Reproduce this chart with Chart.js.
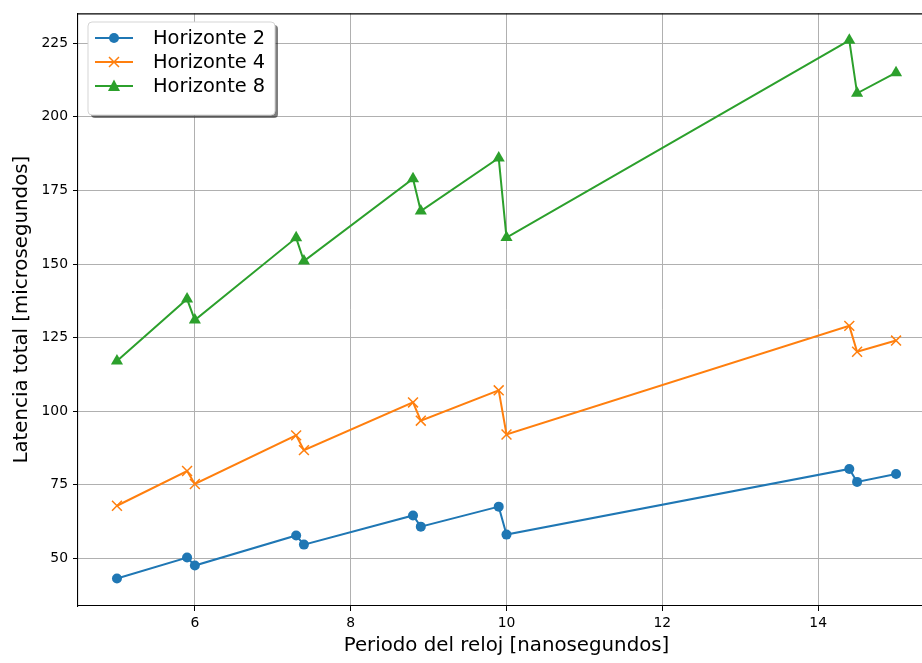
<!DOCTYPE html>
<html>
<head>
<meta charset="utf-8">
<script src="https://cdn.jsdelivr.net/npm/chart.js@4/dist/chart.umd.min.js"></script>
<style>
  html, body { margin: 0; padding: 0; background: #fff; overflow: hidden; }
  #wrap { width: 940px; height: 663px; position: relative; }
</style>
</head>
<body>
<div id="wrap"><canvas id="c" width="940" height="663"></canvas></div>
<script>
// Clock period (ns) sampled for every horizon
const periodos = [5, 5.9, 6, 7.3, 7.4, 8.8, 8.9, 9.9, 10, 14.4, 14.5, 15];

// Total latency (microseconds) per prediction horizon
const horizonte2 = [43.2, 50.3, 47.6, 57.8, 54.7, 64.6, 60.8, 67.6, 58.1, 80.4, 76.0, 78.7];
const horizonte4 = [67.9, 79.7, 75.3, 91.8, 86.8, 103.0, 96.8, 107.1, 92.1, 129.0, 120.2, 124.0];
const horizonte8 = [117.1, 138.1, 131.0, 158.9, 151.0, 179.0, 168.0, 186.0, 159.0, 226.0, 208.0, 215.0];

const seriesNames = ['Horizonte 2', 'Horizonte 4', 'Horizonte 8'];

// Axis ticks
const xTicks = [6, 8, 10, 12, 14];
const yTicks = [50, 75, 100, 125, 150, 175, 200, 225];

const FONT = "'DejaVu Sans', sans-serif";

function toPoints(ys) {
  return periodos.map((x, i) => ({ x: x, y: ys[i] }));
}

// Top frame line of the axes box
const frameTop = {
  id: 'frameTop',
  afterDraw(chart) {
    const { ctx, chartArea } = chart;
    ctx.save();
    ctx.strokeStyle = '#000';
    ctx.lineWidth = 1.1;
    ctx.beginPath();
    ctx.moveTo(chartArea.left, chartArea.top + 0.5);
    ctx.lineTo(chartArea.right, chartArea.top + 0.5);
    ctx.stroke();
    ctx.restore();
  }
};

function drawMarker(ctx, style, x, y, color) {
  ctx.save();
  ctx.fillStyle = color;
  ctx.strokeStyle = color;
  if (style === 'circle') {
    ctx.beginPath();
    ctx.arc(x, y, 5, 0, Math.PI * 2);
    ctx.fill();
  } else if (style === 'triangle') {
    ctx.beginPath();
    ctx.moveTo(x, y - 6.5);
    ctx.lineTo(x + 6, y + 5);
    ctx.lineTo(x - 6, y + 5);
    ctx.closePath();
    ctx.fill();
  } else if (style === 'crossRot') {
    ctx.lineWidth = 1.5;
    ctx.beginPath();
    ctx.moveTo(x - 5, y - 5); ctx.lineTo(x + 5, y + 5);
    ctx.moveTo(x + 5, y - 5); ctx.lineTo(x - 5, y + 5);
    ctx.stroke();
  }
  ctx.restore();
}

// Framed legend with drop shadow, line + marker samples
const boxLegend = {
  id: 'boxLegend',
  afterDraw(chart) {
    const ctx = chart.ctx;
    const x = 88, y = 22, w = 187, h = 93, r = 4;
    ctx.save();
    function rr(px, py) {
      ctx.beginPath();
      ctx.moveTo(px + r, py);
      ctx.lineTo(px + w - r, py);
      ctx.quadraticCurveTo(px + w, py, px + w, py + r);
      ctx.lineTo(px + w, py + h - r);
      ctx.quadraticCurveTo(px + w, py + h, px + w - r, py + h);
      ctx.lineTo(px + r, py + h);
      ctx.quadraticCurveTo(px, py + h, px, py + h - r);
      ctx.lineTo(px, py + r);
      ctx.quadraticCurveTo(px, py, px + r, py);
      ctx.closePath();
    }
    // shadow
    rr(x + 3, y + 3);
    ctx.fillStyle = 'rgba(0,0,0,0.5)';
    ctx.fill();
    rr(x, y);
    ctx.fillStyle = '#fff';
    ctx.fill();
    ctx.strokeStyle = '#d5d5d5';
    ctx.lineWidth = 1;
    ctx.stroke();

    ctx.font = '19.4px ' + FONT;
    ctx.textBaseline = 'middle';
    ctx.textAlign = 'left';
    chart.data.datasets.forEach((ds, i) => {
      const cy = 38 + i * 24;
      ctx.strokeStyle = ds.borderColor;
      ctx.lineWidth = 2;
      ctx.beginPath();
      ctx.moveTo(95, cy);
      ctx.lineTo(133, cy);
      ctx.stroke();
      drawMarker(ctx, ds.pointStyle, 114, cy, ds.borderColor);
      ctx.fillStyle = '#000';
      ctx.fillText(ds.label, 153, cy + 1);
    });
    ctx.restore();
  }
};

const colors = ['#1f77b4', '#ff7f0e', '#2ca02c'];
const styles = ['circle', 'crossRot', 'triangle'];
const radii = [5, 7, 7];
const series = [horizonte2, horizonte4, horizonte8];

const datasets = series.map((ys, i) => ({
  label: seriesNames[i],
  data: toPoints(ys),
  showLine: true,
  borderColor: colors[i],
  backgroundColor: colors[i],
  borderWidth: 2,
  pointStyle: styles[i],
  pointRadius: radii[i],
  pointHoverRadius: radii[i],
  pointBorderWidth: i === 1 ? 1.5 : 0,
  pointBorderColor: colors[i],
  pointBackgroundColor: colors[i],
  tension: 0
}));

new Chart(document.getElementById('c'), {
  type: 'scatter',
  data: { datasets: datasets },
  options: {
    responsive: false,
    animation: false,
    layout: { autoPadding: false, padding: { left: 0, top: 11, right: 5, bottom: 0 } },
    plugins: {
      legend: { display: false },
      tooltip: { enabled: false }
    },
    scales: {
      x: {
        type: 'linear',
        min: 4.5,
        max: 15.5,
        afterFit(scale) { scale.height = 57; },
        afterBuildTicks(scale) { scale.ticks = xTicks.map(v => ({ value: v })); },
        grid: {
          color: '#b0b0b0',
          lineWidth: 1,
          tickColor: '#000',
          tickLength: 5,
          drawTicks: true
        },
        border: { color: '#000', width: 1.1 },
        ticks: {
          color: '#000',
          padding: 4,
          font: { family: FONT, size: 13.9 },
          maxRotation: 0
        },
        title: {
          display: true,
          text: 'Periodo del reloj [nanosegundos]',
          color: '#000',
          font: { family: FONT, size: 19.8 },
          padding: { top: 0, bottom: 5 }
        }
      },
      y: {
        type: 'linear',
        min: 33.85,
        max: 235.15,
        afterFit(scale) { scale.width = 78; },
        afterBuildTicks(scale) { scale.ticks = yTicks.map(v => ({ value: v })); },
        grid: {
          color: '#b0b0b0',
          lineWidth: 1,
          tickColor: '#000',
          tickLength: 5,
          drawTicks: true
        },
        border: { color: '#000', width: 1.1 },
        ticks: {
          color: '#000',
          padding: 5,
          font: { family: FONT, size: 13.9 }
        },
        title: {
          display: true,
          text: 'Latencia total [microsegundos]',
          color: '#000',
          font: { family: FONT, size: 19.8 },
          padding: { top: 10, bottom: 0 }
        }
      }
    }
  },
  plugins: [frameTop, boxLegend]
});
</script>
</body>
</html>
